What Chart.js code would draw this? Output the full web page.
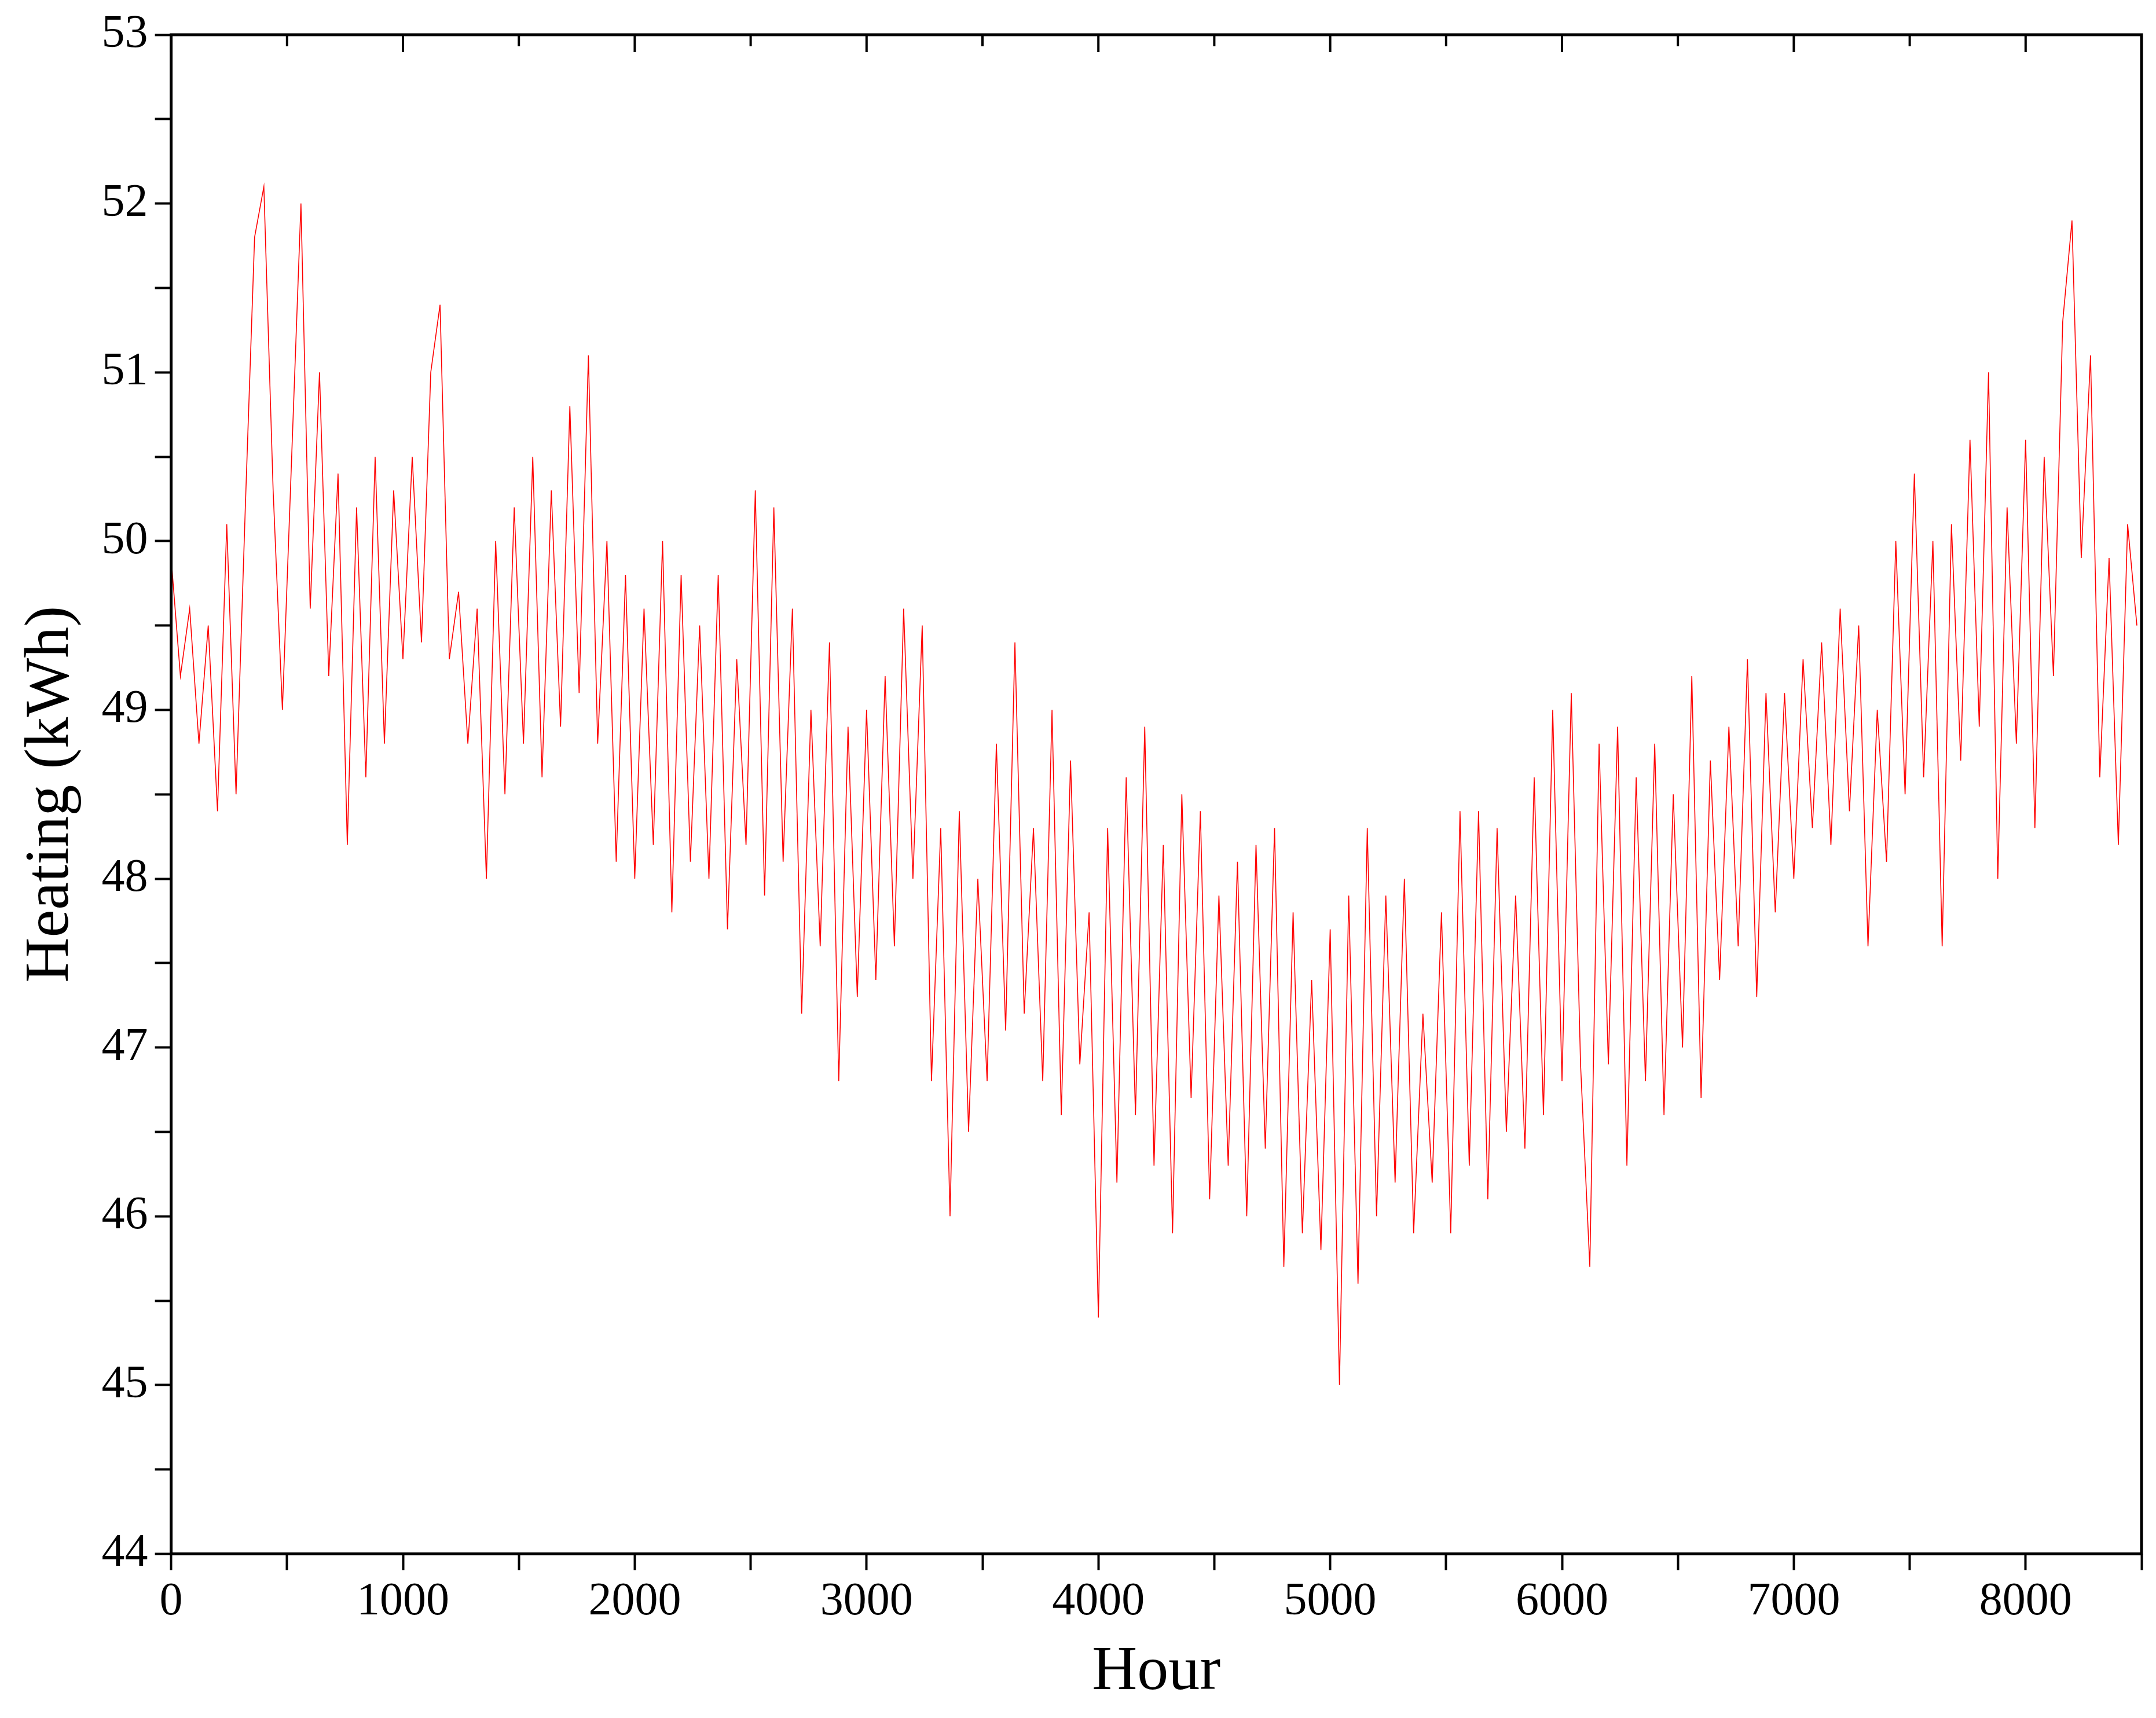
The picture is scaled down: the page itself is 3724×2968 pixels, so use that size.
<!DOCTYPE html>
<html><head><meta charset="utf-8">
<script src="https://cdn.jsdelivr.net/npm/chart.js@4"></script>
<style>html,body{margin:0;padding:0;background:#fff}#w{width:3724px;height:2968px}</style>
</head><body><div id="w"><canvas id="c"></canvas></div>
<script>
const hours = [0,40,80,120,160,200,240,280,320,360,400,440,480,520,560,600,640,680,720,760,800,840,880,920,960,1000,1040,1080,1120,1160,1200,1240,1280,1320,1360,1400,1440,1480,1520,1560,1600,1640,1680,1720,1760,1800,1840,1880,1920,1960,2000,2040,2080,2120,2160,2200,2240,2280,2320,2360,2400,2440,2480,2520,2560,2600,2640,2680,2720,2760,2800,2840,2880,2920,2960,3000,3040,3080,3120,3160,3200,3240,3280,3320,3360,3400,3440,3480,3520,3560,3600,3640,3680,3720,3760,3800,3840,3880,3920,3960,4000,4040,4080,4120,4160,4200,4240,4280,4320,4360,4400,4440,4480,4520,4560,4600,4640,4680,4720,4760,4800,4840,4880,4920,4960,5000,5040,5080,5120,5160,5200,5240,5280,5320,5360,5400,5440,5480,5520,5560,5600,5640,5680,5720,5760,5800,5840,5880,5920,5960,6000,6040,6080,6120,6160,6200,6240,6280,6320,6360,6400,6440,6480,6520,6560,6600,6640,6680,6720,6760,6800,6840,6880,6920,6960,7000,7040,7080,7120,7160,7200,7240,7280,7320,7360,7400,7440,7480,7520,7560,7600,7640,7680,7720,7760,7800,7840,7880,7920,7960,8000,8040,8080,8120,8160,8200,8240,8280,8320,8360,8400,8440,8480];
const heating = [49.9,49.2,49.6,48.8,49.5,48.4,50.1,48.5,50.2,51.8,52.1,50.3,49.0,50.5,52.0,49.6,51.0,49.2,50.4,48.2,50.2,48.6,50.5,48.8,50.3,49.3,50.5,49.4,51.0,51.4,49.3,49.7,48.8,49.6,48.0,50.0,48.5,50.2,48.8,50.5,48.6,50.3,48.9,50.8,49.1,51.1,48.8,50.0,48.1,49.8,48.0,49.6,48.2,50.0,47.8,49.8,48.1,49.5,48.0,49.8,47.7,49.3,48.2,50.3,47.9,50.2,48.1,49.6,47.2,49.0,47.6,49.4,46.8,48.9,47.3,49.0,47.4,49.2,47.6,49.6,48.0,49.5,46.8,48.3,46.0,48.4,46.5,48.0,46.8,48.8,47.1,49.4,47.2,48.3,46.8,49.0,46.6,48.7,46.9,47.8,45.4,48.3,46.2,48.6,46.6,48.9,46.3,48.2,45.9,48.5,46.7,48.4,46.1,47.9,46.3,48.1,46.0,48.2,46.4,48.3,45.7,47.8,45.9,47.4,45.8,47.7,45.0,47.9,45.6,48.3,46.0,47.9,46.2,48.0,45.9,47.2,46.2,47.8,45.9,48.4,46.3,48.4,46.1,48.3,46.5,47.9,46.4,48.6,46.6,49.0,46.8,49.1,46.9,45.7,48.8,46.9,48.9,46.3,48.6,46.8,48.8,46.6,48.5,47.0,49.2,46.7,48.7,47.4,48.9,47.6,49.3,47.3,49.1,47.8,49.1,48.0,49.3,48.3,49.4,48.2,49.6,48.4,49.5,47.6,49.0,48.1,50.0,48.5,50.4,48.6,50.0,47.6,50.1,48.7,50.6,48.9,51.0,48.0,50.2,48.8,50.6,48.3,50.5,49.2,51.3,51.9,49.9,51.1,48.6,49.9,48.2,50.1,49.5];
const xTicks = [0,1000,2000,3000,4000,5000,6000,7000,8000];
const yTicks = [44,45,46,47,48,49,50,51,52,53];

const frame = {id:'frame',afterDraw(ch){const a=ch.chartArea,c=ch.ctx;c.save();c.strokeStyle='#000';c.lineWidth=5;c.strokeRect(a.left,a.top,a.right-a.left,a.bottom-a.top);
 c.lineWidth=4;const xs=ch.scales.x,ys=ch.scales.y;
 for(let v=0;v<=8500;v+=500){const p=xs.getPixelForValue(v);c.beginPath();c.moveTo(p,a.top);c.lineTo(p,a.top+(v%1000?20:30));c.stroke();}
 c.restore();}};

new Chart(document.getElementById('c'),{
 type:'line',
 data:{datasets:[{data:hours.map((h,i)=>({x:h,y:heating[i]})),borderColor:'#ff0000',borderWidth:1.6,pointRadius:0,tension:0}]},
 options:{responsive:true,maintainAspectRatio:false,animation:false,
  layout:{padding:{left:20,right:25,top:60,bottom:10}},
  plugins:{legend:{display:false},tooltip:{enabled:false}},
  scales:{
   x:{type:'linear',min:0,max:8500,
     afterBuildTicks(s){s.ticks=[];for(let v=0;v<=8500;v+=500)s.ticks.push({value:v});},
     ticks:{autoSkip:false,maxRotation:0,color:'#000',font:{family:'Liberation Serif',size:80},callback:v=>xTicks.includes(v)?v:'',padding:8},
     grid:{drawOnChartArea:false,drawTicks:true,tickLength:28,tickWidth:4,tickColor:'#000'},
     border:{display:false},
     title:{display:true,text:'Hour',color:'#000',font:{family:'Liberation Serif',size:108},padding:{top:0}}},
   y:{min:44,max:53,
     afterBuildTicks(s){s.ticks=[];for(let v=44;v<=53.001;v+=0.5)s.ticks.push({value:v});},
     ticks:{autoSkip:false,color:'#000',font:{family:'Liberation Serif',size:80},callback:v=>yTicks.includes(v)?v:'',padding:12},
     grid:{drawOnChartArea:false,drawTicks:true,tickLength:28,tickWidth:4,tickColor:'#000'},
     border:{display:false},
     title:{display:true,text:'Heating (kWh)',color:'#000',font:{family:'Liberation Serif',size:108},padding:{bottom:10}}}
  }},
 plugins:[frame]
});
</script></body></html>
